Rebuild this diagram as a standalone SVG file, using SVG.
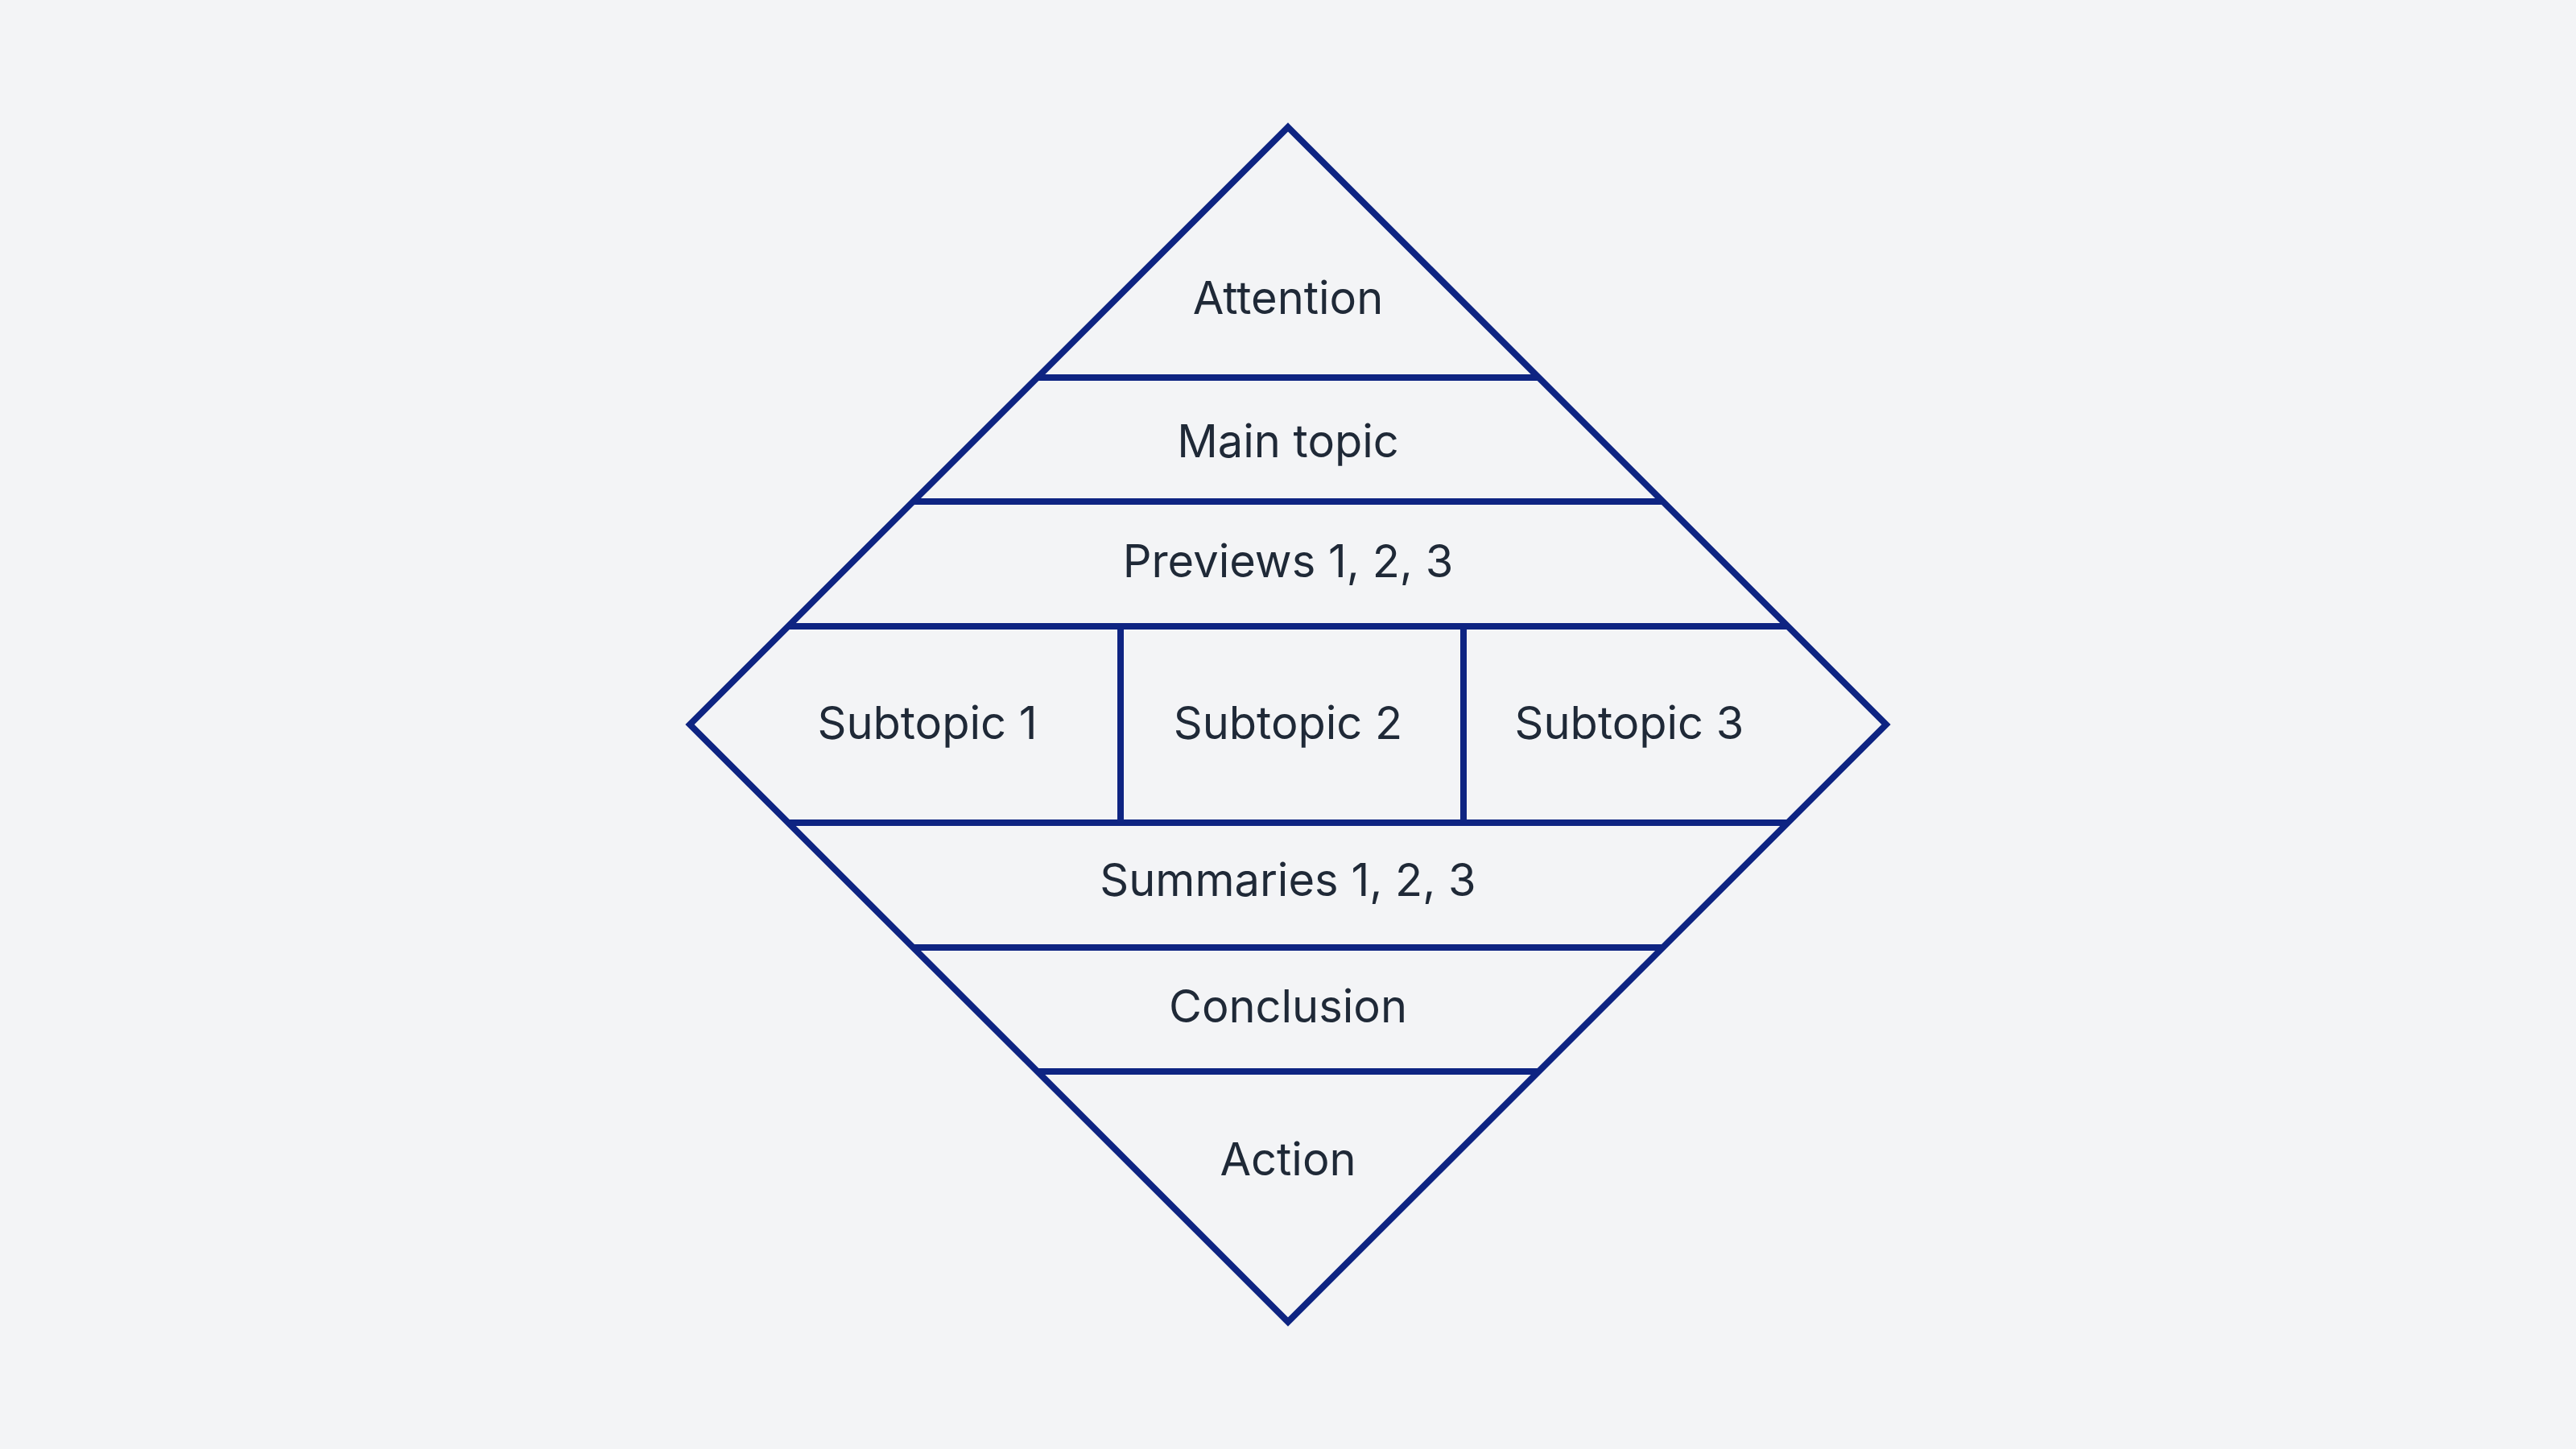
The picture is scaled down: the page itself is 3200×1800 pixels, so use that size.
<svg xmlns="http://www.w3.org/2000/svg" width="3200" height="1800" viewBox="0 0 3200 1800">
<style>
.ln{stroke:#0e2482;stroke-width:8;fill:none;stroke-linecap:butt}
.lbl{font-family:Inter,"Noto Sans","Liberation Sans",sans-serif;font-size:56px;fill:#1f2937;text-anchor:middle}
</style>
<rect width="3200" height="1800" fill="#f3f4f6"/>
<g id="connectors">
<polygon class="ln" points="1600,158 2343,900 1600,1642 857,900" stroke-linejoin="miter"/>
<line class="ln" x1="1289" y1="469" x2="1911" y2="469"/>
<line class="ln" x1="1135" y1="623" x2="2065" y2="623"/>
<line class="ln" x1="980" y1="778" x2="2220" y2="778"/>
<line class="ln" x1="980" y1="1022" x2="2220" y2="1022"/>
<line class="ln" x1="1135" y1="1177" x2="2065" y2="1177"/>
<line class="ln" x1="1289" y1="1331" x2="1911" y2="1331"/>
<line class="ln" x1="1392" y1="778" x2="1392" y2="1022"/>
<line class="ln" x1="1818" y1="778" x2="1818" y2="1022"/>
</g>
<g id="attention"><text class="lbl" x="1600" y="390">Attention</text></g>
<g id="main-topic"><text class="lbl" x="1600" y="568">Main topic</text></g>
<g id="previews"><text class="lbl" x="1600" y="717">Previews 1, 2, 3</text></g>
<g id="subtopic1"><text class="lbl" x="1152" y="918">Subtopic 1</text></g>
<g id="subtopic2"><text class="lbl" x="1600" y="918">Subtopic 2</text></g>
<g id="subtopic3"><text class="lbl" x="2024" y="918">Subtopic 3</text></g>
<g id="summaries"><text class="lbl" x="1600" y="1113">Summaries 1, 2, 3</text></g>
<g id="conclusion"><text class="lbl" x="1600" y="1270">Conclusion</text></g>
<g id="action"><text class="lbl" x="1600" y="1460">Action</text></g>
</svg>
